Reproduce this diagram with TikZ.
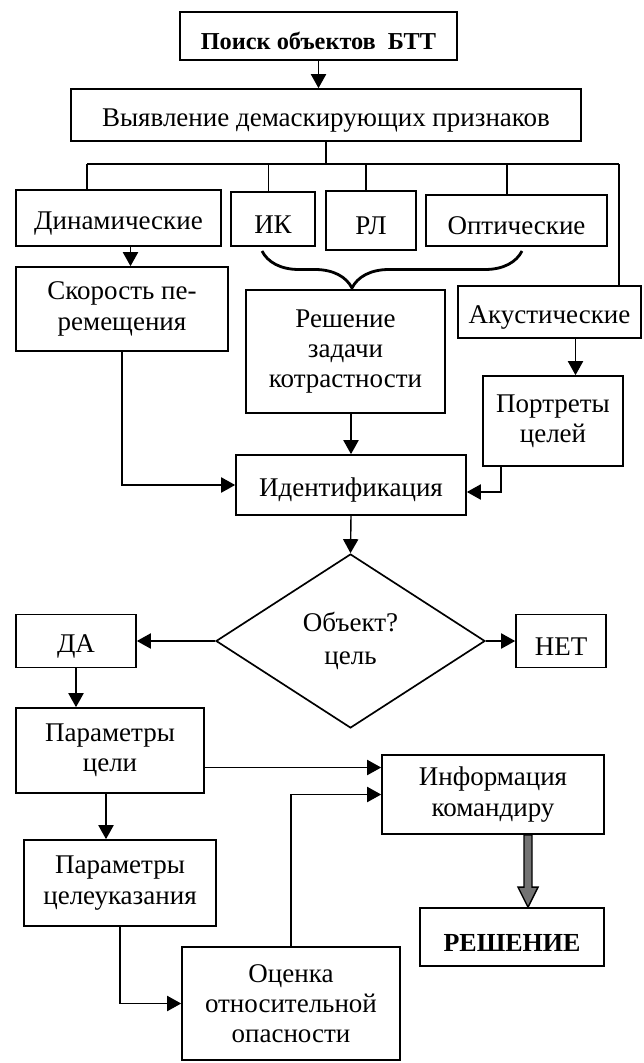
\documentclass[tikz,border=0pt]{standalone}
\usepackage{fontspec}
\setmainfont{Liberation Serif}
\usetikzlibrary{arrows.meta,shapes.geometric,decorations.pathreplacing,calc}

\begin{document}
\begin{tikzpicture}[
  x=0.25mm,y=-0.25mm,
  box/.style={draw=black,line width=1.2pt,align=center,inner sep=0pt,
    font=\fontsize{19.2pt}{21.5pt}\selectfont,
    execute at begin node={\rule{0pt}{20pt}}},
  sz/.style 2 args={minimum width=#1*0.25mm,minimum height=#2*0.25mm},
  strong/.style={font=\fontsize{#1}{21pt}\selectfont\bfseries},
  link/.style={draw=black,line width=1pt},
  arr/.style={link,-{Triangle[length=3.5mm,width=3.8mm]}},
  brc/.style={draw=black,line width=2pt,decorate,
    decoration={brace,amplitude=9.25mm,aspect=0.654}},
  fat/.style={draw=black,line width=1pt,fill=black!55},
]
\useasboundingbox (0,0) rectangle (643,1063);
\node[box,strong=17.3pt,sz={277}{48}] (search) at (318.5,36) {Поиск объектов\ \ БТТ};
\node[box,sz={510}{52}] (signs) at (326,115) {Выявление демаскирующих признаков};
\node[box,sz={205}{56}] (dyn) at (118.5,218) {Динамические};
\node[box,sz={84}{54}] (ir) at (273,219) {ИК};
\node[box,sz={90}{59}] (radar) at (371,220.5) {РЛ};
\node[box,sz={181}{51}] (optic) at (516.5,220.5) {Оптические};
\node[box,sz={212}{84}] (speed) at (122,309) {Скорость пе-\\ремещения};
\node[box,sz={199}{123}] (contrast) at (345.5,351.5) {Решение\\задачи\\котрастности};
\node[box,sz={183}{52}] (acoustic) at (549.5,312) {Акустические};
\node[box,sz={140}{90}] (portrait) at (553,421) {Портреты\\целей};
\node[box,sz={230}{60}] (ident) at (351,485) {Идентификация};
\node[box,diamond,aspect=1.5,sz={269}{174},execute at begin node={}]
  (target) at (350.5,641) {Объект?\\[1.5pt]цель};
\node[box,sz={120}{53}] (yes) at (76,641) {ДА};
\node[box,sz={90}{53}] (no) at (561,641) {НЕТ};
\node[box,sz={188}{85}] (tparams) at (110,750.5) {Параметры\\цели};
\node[box,sz={222}{79}] (report) at (493,794.5) {Информация\\командиру};
\node[box,sz={192}{86}] (designate) at (120,883) {Параметры\\целеуказания};
\node[box,sz={218}{113}] (threat) at (291,1003.5) {Оценка\\относительной\\опасности};
\node[box,strong=18.5pt,sz={184}{58}] (decision) at (512,937) {РЕШЕНИЕ};

\coordinate (busL) at (87,164);
\coordinate (busR) at (619,164);
\draw[arr] (search.south) -- (search.south |- signs.north);
\draw[link] (signs.south) -- (signs.south |- busL);
\draw[link] (busL) -- (busR);
\draw[link] (busL) -- (busL |- dyn.north);
\foreach \n/\dx in {ir/-4.5,radar/-5,optic/-9.5}{
  \coordinate (drop) at ($(\n.north)+(\dx,0)$);
  \draw[link] (drop) -- (drop |- busL);
}
\draw[link] (busR) -- (busR |- acoustic.north);
\draw[brc] (522,251) -- (262,251);

\coordinate (dynout) at ($(dyn.south)+(12,0)$);
\coordinate (acout) at ($(acoustic.south)+(26,0)$);
\coordinate (portout) at ($(portrait.south)+(-52,0)$);
\coordinate (identin) at ($(ident.east)+(0,7)$);
\coordinate (tpout) at ($(tparams.east)+(0,17)$);
\coordinate (tpdown) at ($(tparams.south)+(-4,0)$);
\draw[arr] (dynout) -- (dynout |- speed.north);
\draw[arr] (speed.south) |- (ident.west);
\draw[arr] (contrast.south -| ident.north) -- (ident.north);
\draw[arr] (acout) -- (acout |- portrait.north);
\draw[arr] (portout) |- (identin);
\draw[arr] (ident.south) -- (target.north);
\draw[arr] (target.west) -- (yes.east);
\draw[arr] (target.east) -- (no.west);
\draw[arr] (yes.south) -- (yes.south |- tparams.north);
\draw[arr] (tpout) -- (tpout -| report.west);
\draw[arr] (tpdown) -- (tpdown |- designate.north);
\draw[arr] (designate.south) |- (threat.west);
\draw[arr] (threat.north) |- (report.west);

\coordinate (g1) at ($(report.south)+(35,0)$);
\coordinate (g2) at (g1 |- decision.north);
\filldraw[fat] ($(g1)+(-4,0)$) -- ($(g2)+(-4,-20)$) -- ($(g2)+(-10,-20)$) -- (g2)
  -- ($(g2)+(10,-20)$) -- ($(g2)+(4,-20)$) -- ($(g1)+(4,0)$) -- cycle;
\end{tikzpicture}
\end{document}
